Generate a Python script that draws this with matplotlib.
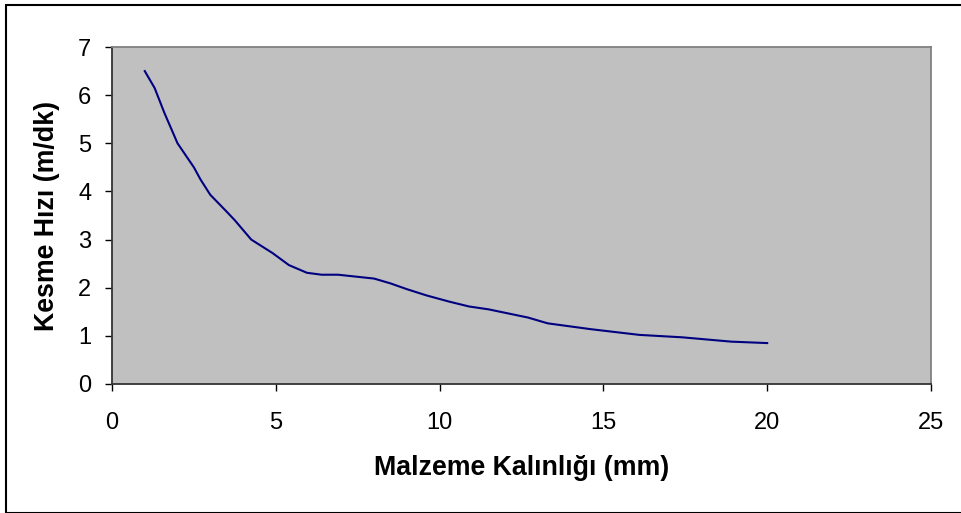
import matplotlib.pyplot as plt
from matplotlib.patches import Rectangle

# malzeme kalinligi (mm) ve kesme hizi (m/dk)
kalinlik = [1, 1.3, 1.6, 2, 2.5, 2.7, 3, 3.5, 3.75, 4.25, 4.9, 5.4, 5.95, 6.4, 6.9,
            8, 8.5, 9, 9.6, 10.3, 10.9, 11.5, 12.7, 13.3, 14.6, 16.1, 17.4, 18.9, 20]
hiz = [6.5, 6.15, 5.63, 5.0, 4.5, 4.25, 3.93, 3.58, 3.4, 3.0, 2.72, 2.47, 2.31, 2.27, 2.27,
       2.19, 2.09, 1.97, 1.84, 1.71, 1.61, 1.55, 1.38, 1.26, 1.14, 1.02, 0.97, 0.88, 0.85]

xticks = [0, 5, 10, 15, 20, 25]
yticks = [0, 1, 2, 3, 4, 5, 6, 7]

plt.rcParams['font.family'] = ['Liberation Sans', 'DejaVu Sans']

fig = plt.figure(figsize=(9.62, 5.13), dpi=100)
ax = fig.add_axes([112/962, 129/513, 819/962, 337/513])

# dis cerceve
fig.patches.append(Rectangle((6/962, 0), 1.0, 1 - 5/513, transform=fig.transFigure,
                             fill=False, edgecolor='black', linewidth=1.5, clip_on=False))

ax.set_facecolor('#c0c0c0')
ax.plot(kalinlik, hiz, color='#000080', linewidth=1.5)

ax.set_xlim(0, 25)
ax.set_ylim(0, 7)
ax.set_xticks(xticks)
ax.set_yticks(yticks)
ax.tick_params(axis='both', direction='out', length=5, width=1, labelsize=17, colors='black')
ax.tick_params(axis='x', pad=15)
ax.tick_params(axis='y', pad=10)

ax.spines['left'].set_color('#333333')
ax.spines['bottom'].set_color('#333333')
ax.spines['left'].set_linewidth(1.3)
ax.spines['bottom'].set_linewidth(1.3)
ax.spines['top'].set_color('#808080')
ax.spines['right'].set_color('#808080')
ax.spines['top'].set_linewidth(1.3)
ax.spines['right'].set_linewidth(1.3)

ax.set_xlabel('Malzeme Kalınlığı (mm)', fontsize=19.3, fontweight='bold', labelpad=15)
ax.set_ylabel('Kesme Hızı (m/dk)', fontsize=19.3, fontweight='bold', labelpad=13)

fig.savefig('out.png', dpi=100)
